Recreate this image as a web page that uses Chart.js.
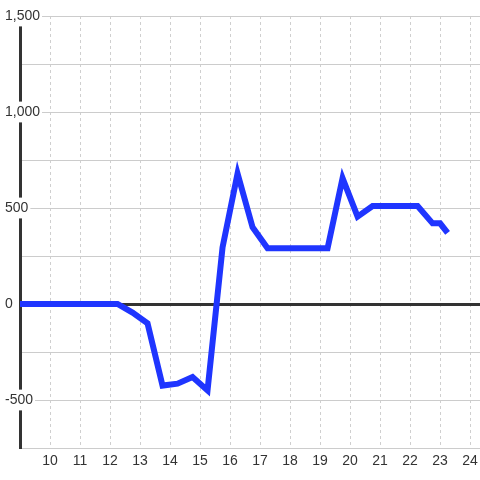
<!DOCTYPE html>
<html>
<head>
<meta charset="utf-8">
<script src="https://cdn.jsdelivr.net/npm/chart.js@4/dist/chart.umd.min.js"></script>
<style>
  html, body { margin: 0; padding: 0; background: #fff; }
  #wrap { width: 480px; height: 480px; }
</style>
</head>
<body>
<div id="wrap"><canvas id="lineChart"></canvas></div>
<script>
const hours = [8.75, 9.25, 9.75, 10.25, 10.75, 11.25, 11.75, 12.25, 12.75, 13.25,
  13.75, 14.25, 14.75, 15.25, 15.75, 16.25, 16.75, 17.25, 17.75, 18.25,
  18.75, 19.25, 19.75, 20.25, 20.75, 21.25, 21.75, 22.25, 22.75, 23.0, 23.25];
const values = [0, 0, 0, 0, 0, 0, 0, 0, -45, -100,
  -425, -415, -380, -450, 295, 680, 400, 290, 290, 290,
  290, 290, 655, 455, 510, 510, 510, 510, 420, 420, 370];
const xTicks = { min: 9, max: 24.33, step: 1 };
const yTicks = { min: -750, max: 1500, step: 250, labelEvery: 500 };

const labelFont = { family: "'Liberation Sans', Arial, sans-serif", size: 14 };

const points = hours.map((h, i) => ({ x: h, y: values[i] }));

new Chart(document.getElementById('lineChart'), {
  type: 'line',
  data: {
    datasets: [{
      data: points,
      borderColor: '#1f35ff',
      borderWidth: 6,
      pointRadius: 0,
      tension: 0,
      fill: false
    }]
  },
  options: {
    responsive: true,
    maintainAspectRatio: false,
    animation: false,
    layout: { padding: { top: 16, right: 0, bottom: 0, left: 0 } },
    plugins: { legend: { display: false }, tooltip: { enabled: false } },
    scales: {
      x: {
        type: 'linear',
        min: xTicks.min,
        max: xTicks.max,
        afterFit: s => { s.height = 32; s.paddingLeft = 0; s.paddingRight = 0; },
        border: { display: false, dash: [3, 3] },
        grid: { color: '#cfcfcf', drawTicks: false },
        ticks: {
          stepSize: xTicks.step,
          includeBounds: false,
          autoSkip: false,
          maxRotation: 0,
          padding: 5,
          color: '#333',
          font: labelFont,
          callback: v => (v >= 10 ? String(v) : '')
        }
      },
      y: {
        min: yTicks.min,
        max: yTicks.max,
        afterFit: s => { s.width = 20; s.paddingTop = 0; s.paddingBottom = 0; },
        border: { color: '#333', width: 3 },
        grid: {
          color: ctx => (ctx.tick && ctx.tick.value === 0 ? '#333' : '#cccccc'),
          lineWidth: ctx => (ctx.tick && ctx.tick.value === 0 ? 3 : 1),
          drawTicks: false
        },
        ticks: {
          stepSize: yTicks.step,
          mirror: true,
          padding: -15,
          showLabelBackdrop: true,
          backdropColor: '#fff',
          backdropPadding: 2,
          color: '#333',
          font: labelFont,
          callback: v => (v % yTicks.labelEvery === 0 ? v.toLocaleString('en-US') : '')
        }
      }
    }
  }
});
</script>
</body>
</html>
